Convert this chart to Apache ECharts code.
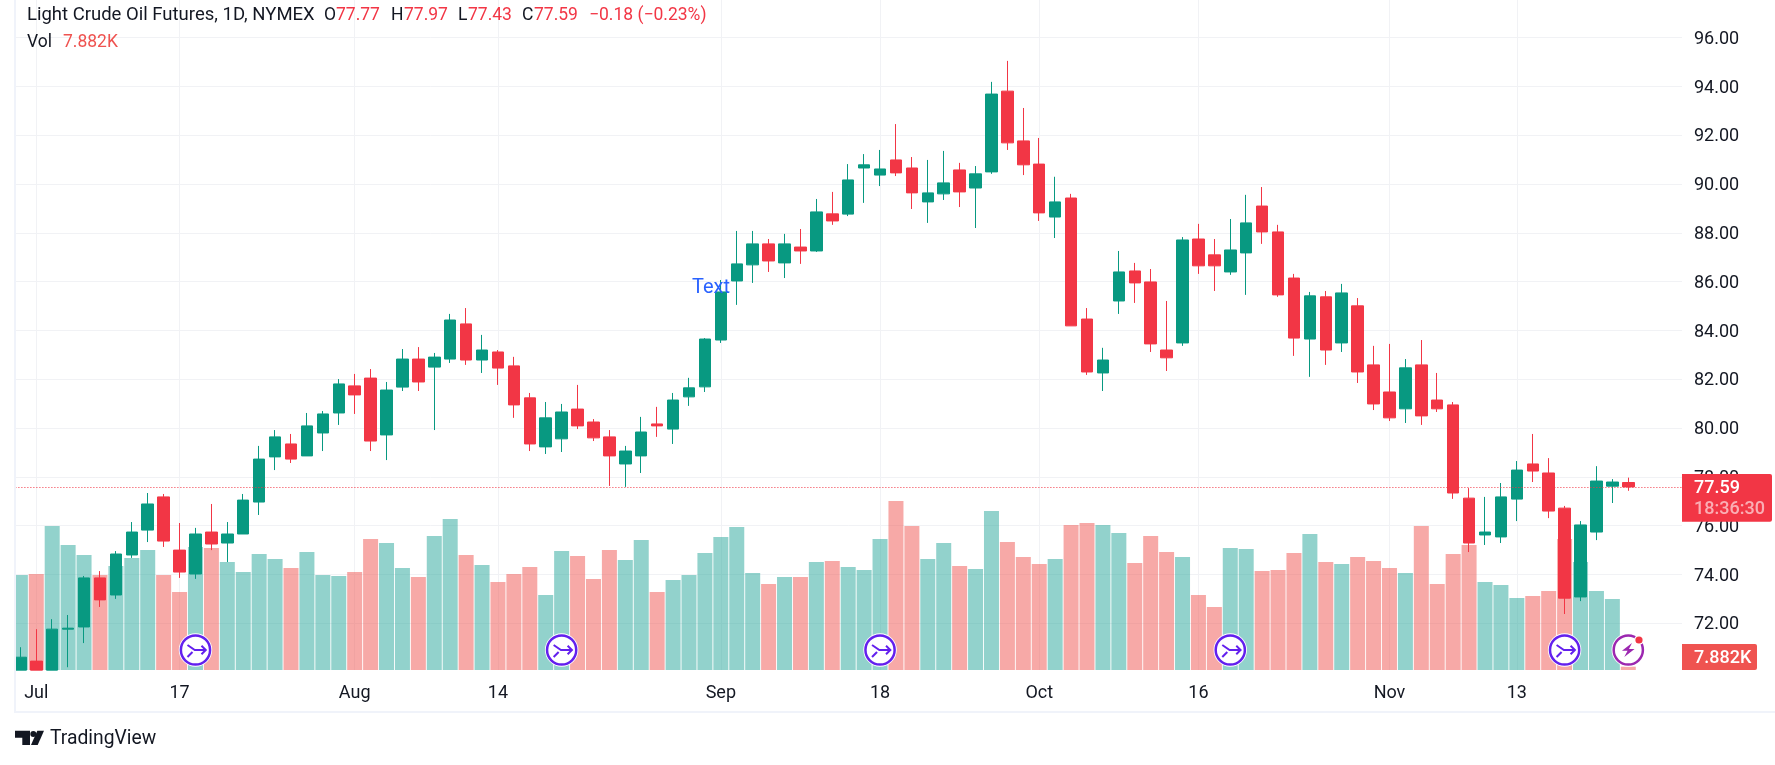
<!DOCTYPE html>
<html><head><meta charset="utf-8">
<style>html,body{margin:0;padding:0;background:#fff}#c{width:1775px;height:765px}</style>
<script src="https://cdn.jsdelivr.net/npm/echarts@6/dist/echarts.min.js"></script>
</head><body><div id="c"></div>
<script>
const dates = ['06-30','07-03','07-05','07-06','07-07','07-10','07-11','07-12','07-13','07-14','07-17','07-18','07-19','07-20','07-21','07-24','07-25','07-26','07-27','07-28','07-31',
'08-01','08-02','08-03','08-04','08-07','08-08','08-09','08-10','08-11','08-14','08-15','08-16','08-17','08-18','08-21','08-22','08-23','08-24','08-25','08-28','08-29','08-30','08-31',
'09-01','09-05','09-06','09-07','09-08','09-11','09-12','09-13','09-14','09-15','09-18','09-19','09-20','09-21','09-22','09-25','09-26','09-27','09-28','09-29',
'10-02','10-03','10-04','10-05','10-06','10-09','10-10','10-11','10-12','10-13','10-16','10-17','10-18','10-19','10-20','10-23','10-24','10-25','10-26','10-27','10-30','10-31',
'11-01','11-02','11-03','11-06','11-07','11-08','11-09','11-10','11-13','11-14','11-15','11-16','11-17','11-20','11-21','11-22'];
const blankSlots = ['+1','+2','+3'];
const highs = [71.02,71.76,72.17,72.34,73.94,74.14,74.96,76.15,77.34,77.30,76.11,75.91,76.89,76.15,77.30,79.27,79.92,79.76,80.62,80.70,82.01,82.22,82.42,81.89,83.24,83.32,83.08,84.68,84.92,83.82,83.20,82.92,81.44,81.07,80.99,81.77,80.37,79.92,79.27,80.46,80.87,81.44,82.06,83.69,86.07,88.08,88.08,87.75,87.96,88.16,89.39,89.68,90.82,91.23,91.40,92.46,91.11,90.99,91.36,90.87,90.74,94.19,95.05,93.12,91.89,90.30,89.60,84.92,83.29,87.26,86.77,86.52,85.21,87.83,88.37,87.75,88.57,89.56,89.88,88.33,86.32,85.58,85.62,85.91,85.33,83.37,83.45,82.83,83.61,82.26,81.07,77.54,77.18,77.75,78.65,79.76,78.77,76.81,76.19,78.44,77.91,77.97];
const opens = [70.08,70.45,70.08,71.76,71.85,73.86,73.16,74.80,75.82,77.18,75.00,74.02,75.74,75.29,75.66,76.97,78.82,79.35,78.86,79.80,80.62,81.73,82.05,79.72,81.68,82.83,82.50,82.83,84.27,82.79,83.12,82.55,81.24,79.23,79.56,80.78,80.25,79.64,78.53,78.86,80.17,79.96,81.28,81.69,83.61,86.03,86.69,87.55,86.77,87.42,87.26,88.78,88.77,90.66,90.37,90.99,90.66,89.27,89.60,90.58,89.84,90.50,93.81,91.77,90.82,88.65,89.43,84.47,82.26,85.21,86.44,85.99,83.20,83.49,87.75,87.10,86.40,87.18,89.10,88.04,86.15,83.65,85.38,83.49,85.01,82.59,81.48,80.79,82.59,81.15,80.95,77.13,75.62,75.54,77.09,78.53,78.16,76.72,73.08,75.74,77.62,77.77];
const closes = [70.61,70.08,71.76,71.80,73.86,72.96,74.84,75.74,76.89,75.37,74.10,75.66,75.25,75.66,77.05,78.73,79.64,78.73,80.09,80.58,81.81,81.36,79.47,81.56,82.83,81.89,82.91,84.43,82.79,83.20,82.46,80.95,79.35,80.42,80.66,80.09,79.60,78.86,79.06,79.84,80.09,81.15,81.65,83.65,85.58,86.73,87.55,86.85,87.55,87.26,88.86,88.49,90.17,90.79,90.62,90.46,89.64,89.64,90.05,89.68,90.42,93.69,91.69,90.79,88.82,89.27,84.19,82.30,82.79,86.40,85.95,83.45,82.88,87.71,86.65,86.65,87.30,88.41,88.04,85.46,83.69,85.42,83.20,85.54,82.30,80.99,80.42,82.47,80.50,80.79,77.34,75.29,75.74,77.18,78.28,78.24,76.60,73.03,76.03,77.83,77.79,77.59];
const lows = [70.08,70.08,70.08,70.20,71.19,72.67,73.00,74.68,75.33,75.13,73.86,73.82,75.00,74.51,75.66,76.44,78.28,78.57,78.86,79.06,80.13,80.58,79.06,78.69,81.52,81.52,79.92,82.67,82.59,82.26,81.77,80.42,79.06,78.94,79.02,79.96,79.47,77.63,77.59,78.16,79.64,79.35,80.91,81.48,83.49,85.05,85.95,86.40,86.15,86.73,87.22,88.33,88.69,89.23,89.92,90.33,88.98,88.41,89.35,89.06,88.20,90.42,91.40,90.37,88.49,87.79,84.19,82.18,81.52,84.68,85.13,83.12,82.34,83.37,86.32,85.62,86.28,85.46,87.55,85.38,82.96,82.10,82.59,83.12,81.85,80.74,80.29,80.21,80.13,80.66,77.10,74.92,75.21,75.29,76.19,77.79,76.31,72.38,72.91,75.41,76.93,77.43];
const volumes = [224.7,227.1,340.6,295.7,272.0,224.7,246.0,264.9,283.9,224.7,184.5,291.0,288.6,255.5,231.8,274.4,262.6,241.3,279.1,224.7,222.4,231.8,309.9,300.4,241.3,220.0,317.0,357.2,272.0,248.4,208.2,227.1,243.6,177.4,281.5,269.7,215.3,283.9,260.2,307.5,184.5,212.9,224.7,276.8,314.6,338.3,229.5,203.4,220.0,220.0,255.5,257.8,243.6,236.6,309.9,399.8,340.6,262.6,300.4,246.0,238.9,376.1,302.8,267.3,250.7,262.6,343.0,347.7,343.0,324.1,253.1,317.0,279.1,267.3,177.4,149.0,288.6,286.2,234.2,236.6,276.8,321.7,255.5,250.7,267.3,257.8,241.3,229.5,340.6,203.4,274.4,295.7,208.2,201.1,170.3,175.0,186.9,309.9,255.5,186.9,168.0,7.882];
const timeTicks = {'07-03':'Jul','07-17':'17','08-01':'Aug','08-14':'14','09-01':'Sep','09-18':'18','10-02':'Oct','10-16':'16','11-01':'Nov','11-13':'13'};
const eventDates = ['07-18','08-18','09-18','10-18','11-16'];
const alertDate = '11-22';
const lastPrice = 77.59;
const priceMin = 70, priceMax = 98, priceStep = 2;

const UP='#089981', DOWN='#F23645', GRID='#f1f2f5', FRAME='#f0f3fa', INK='#131722';
const FONT='Roboto, "Open Sans", sans-serif';
const categories = dates.concat(blankSlots);
const candles = dates.map((_, i) => [opens[i], closes[i], lows[i], highs[i]]);
const volBars = dates.map((_, i) => ({value: volumes[i], itemStyle:{color: closes[i] >= opens[i] ? 'rgba(38,166,154,.5)' : 'rgba(239,83,80,.5)'}}));

const chart = echarts.init(document.getElementById('c'), null, {renderer:'canvas'});
const gridL = 12.4, gridR = 91;
chart.setOption({
  animation:false, backgroundColor:'#fff',
  grid:[
    {left:gridL, right:gridR, top:-11.1, height:683.2, outerBoundsMode:'none', containLabel:false},
    {left:gridL, right:gridR, top:0, height:670, outerBoundsMode:'none', containLabel:false}
  ],
  xAxis:[
    {type:'category', gridIndex:0, data:categories, show:false},
    {type:'category', gridIndex:1, data:categories,
     axisLine:{show:false}, axisTick:{show:false},
     axisLabel:{interval:(i,v)=>timeTicks[v]!==undefined, formatter:v=>timeTicks[v]||'', color:INK, fontFamily:FONT, fontSize:18, margin:14, alignWithLabel:true},
     splitLine:{show:true, alignWithLabel:true, interval:(i,v)=>timeTicks[v]!==undefined, lineStyle:{color:GRID,width:1}}}
  ],
  yAxis:[
    {type:'value', gridIndex:0, position:'right', min:priceMin, max:priceMax, interval:priceStep,
     axisLine:{show:false}, axisTick:{show:false},
     axisLabel:{showMinLabel:false, showMaxLabel:false, formatter:v=>v.toFixed(2), color:INK, fontFamily:FONT, fontSize:18, margin:10, verticalAlign:'top', lineHeight:3},
     splitLine:{show:true, showMinLine:false, showMaxLine:false, lineStyle:{color:GRID,width:1}}},
    {type:'value', gridIndex:1, min:0, max:1585, show:false, splitLine:{show:false}}
  ],
  series:[
    {type:'bar', name:'Vol', xAxisIndex:1, yAxisIndex:1, data:volBars, barWidth:15, z:1},
    {type:'line', name:'Last', xAxisIndex:0, yAxisIndex:0, data:[], z:2, symbol:'none',
     markLine:{silent:true, symbol:'none', label:{show:false}, lineStyle:{color:DOWN,type:[1,2],width:1}, data:[{yAxis:lastPrice}]}},
    {type:'candlestick', name:'Price', xAxisIndex:0, yAxisIndex:0, data:candles, barWidth:12, z:3,
     itemStyle:{color:UP,color0:DOWN,borderColor:UP,borderColor0:DOWN,borderWidth:1}}
  ]
});

function eventIcon(x){
  return {type:'group', x, y:650, z:12, children:[
    {type:'circle', shape:{r:16.7}, style:{fill:'#fff'}, z:12},
    {type:'circle', shape:{r:14.6}, style:{fill:'#fff',stroke:'#6320ee',lineWidth:2.5}, z:13},
    {type:'polyline', shape:{points:[[-8,-5],[-0.7,0],[10.3,0]]}, style:{stroke:'#6320ee',lineWidth:2,fill:null}, z:14},
    {type:'polyline', shape:{points:[[-8,7],[-3,2]]}, style:{stroke:'#6320ee',lineWidth:2,fill:null}, z:14},
    {type:'polyline', shape:{points:[[6,-4.3],[10.3,0],[6,4.3]]}, style:{stroke:'#6320ee',lineWidth:2,fill:null}, z:14}
  ]};
}
function alertIcon(x){
  return {type:'group', x, y:650, z:12, children:[
    {type:'circle', shape:{r:16.7}, style:{fill:'#fff'}, z:12},
    {type:'circle', shape:{r:14.6}, style:{fill:'#fff',stroke:'#9c27b0',lineWidth:2.5}, z:13},
    {type:'polygon', shape:{points:[[3.7,-7],[-6.3,.7],[-.7,.7],[-4,7],[6.3,-1],[.7,-1]]}, style:{fill:'#9c27b0'}, z:14},
    {type:'circle', shape:{cx:10.7,cy:-10,r:4.8}, style:{fill:'#fff'}, z:15},
    {type:'circle', shape:{cx:10.7,cy:-10,r:3.6}, style:{fill:DOWN}, z:16}
  ]};
}
const tx=(text,x,y,fill,size,weight)=>({type:'text', x, y, z:25, style:{text, fill, font:`${weight||400} ${size||17.5}px ${FONT}`, textVerticalAlign:'middle', textBaseline:'middle'}});
const px = d => chart.convertToPixel({xAxisIndex:1}, d);

chart.setOption({graphic:{elements:[
  {type:'rect', shape:{x:0,y:0,width:14,height:712}, style:{fill:'#fff'}, z:10},
  {type:'rect', shape:{x:1682,y:0,width:10,height:712}, style:{fill:'#fff'}, z:10},
  {type:'rect', shape:{x:14,y:0,width:2,height:712}, style:{fill:FRAME}, z:11},
  {type:'rect', shape:{x:14,y:711,width:1761,height:2}, style:{fill:FRAME}, z:11},
  tx('Light Crude Oil Futures, 1D, NYMEX',27,15.7,INK,18.5),
  tx('O',324,15.7,INK), tx('77.77',336,15.7,DOWN),
  tx('H',391,15.7,INK), tx('77.97',404,15.7,DOWN),
  tx('L',458,15.7,INK), tx('77.43',468,15.7,DOWN),
  tx('C',522,15.7,INK), tx('77.59',534,15.7,DOWN),
  tx('\u22120.18 (\u22120.23%)',589,15.7,DOWN),
  tx('Vol',27,43,INK), tx('7.882K',63,43,'#ef5350'),
  tx('Text',692,288,'#2962ff',20),
  ...eventDates.map(d=>eventIcon(px(d))),
  alertIcon(px(alertDate)),
  {type:'rect', shape:{x:1682,y:474,width:90,height:47.7,r:[0,2,2,0]}, style:{fill:DOWN}, z:20},
  tx('77.59',1694,488,'#fff',18,500),
  tx('18:36:30',1694,509,'rgba(255,255,255,.6)',18,500),
  {type:'rect', shape:{x:1682,y:644,width:75,height:26,r:[0,2,2,0]}, style:{fill:'#ef5350'}, z:20},
  tx('7.882K',1694,658,'#fff',18,500),
  {type:'polygon', shape:{points:[[15,730.7],[30,730.7],[30,745],[22.3,745],[22.3,737.7],[15,737.7]]}, style:{fill:INK}, z:20},
  {type:'circle', shape:{cx:33.3,cy:734,r:3}, style:{fill:INK}, z:20},
  {type:'polygon', shape:{points:[[37.3,730.7],[44,730.7],[37.7,745],[31,745]]}, style:{fill:INK}, z:20},
  tx('TradingView',50,739,INK,19.3)
]}});
</script></body></html>
